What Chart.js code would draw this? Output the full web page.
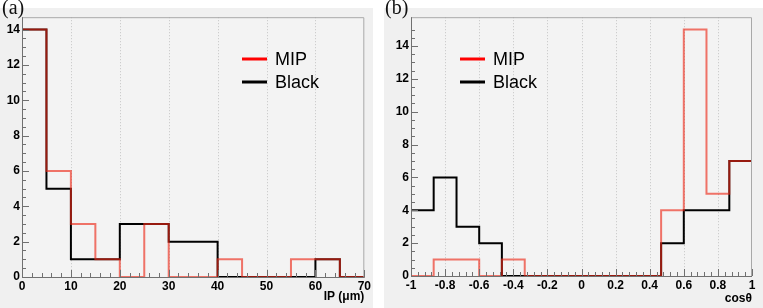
<!DOCTYPE html>
<html>
<head>
<meta charset="utf-8">
<script src="https://cdn.jsdelivr.net/npm/chart.js@4.4.0/dist/chart.umd.min.js"></script>
<style>
    body { margin: 0; width: 763px; height: 308px; background: #fff; position: relative; overflow: hidden; }
    canvas { position: absolute; top: 8px; }
    #chartA { left: 0; }
    #chartB { left: 384px; }
    .tag { position: absolute; top: -4px; font: 20px "Liberation Serif", serif; color: #111; z-index: 2; }
</style>
</head>
<body>
<canvas id="chartA" width="373" height="300"></canvas>
<canvas id="chartB" width="379" height="300"></canvas>
<div class="tag" style="left:2px">(a)</div>
<div class="tag" style="left:385px">(b)</div>
<script>
// (a) impact parameter, 5 um bins
const ipEdges = [0, 5, 10, 15, 20, 25, 30, 35, 40, 45, 50, 55, 60, 65, 70];
const ipMip = [14, 6, 3, 1, 0, 3, 0, 0, 1, 0, 0, 1, 1, 0];
const ipBlack = [14, 5, 1, 1, 3, 3, 2, 2, 0, 0, 0, 0, 1, 0];
const ipTickValues = [0, 10, 20, 30, 40, 50, 60, 70];
const ipTickLabels = ['0', '10', '20', '30', '40', '50', '60', '70'];

// (b) cos theta, 15 bins over [-1, 1]
const cosEdges = [-1, -0.867, -0.733, -0.6, -0.467, -0.333, -0.2, -0.067, 0.067, 0.2, 0.333, 0.467, 0.6, 0.733, 0.867, 1];
const cosMip = [0, 1, 1, 0, 1, 0, 0, 0, 0, 0, 0, 4, 15, 5, 7];
const cosBlack = [4, 6, 3, 2, 0, 0, 0, 0, 0, 0, 0, 2, 4, 4, 7];
const cosTickValues = [-1, -0.8, -0.6, -0.4, -0.2, 0, 0.2, 0.4, 0.6, 0.8, 1];
const cosTickLabels = ['-1', '-0.8', '-0.6', '-0.4', '-0.2', '0', '0.2', '0.4', '0.6', '0.8', '1'];

const countTickValues = [0, 2, 4, 6, 8, 10, 12, 14];
const countTickLabels = ['0', '2', '4', '6', '8', '10', '12', '14'];

const seriesNames = ['MIP', 'Black'];

const MIP_COLOR = 'rgba(236, 40, 24, 0.64)';
const BLACK_COLOR = '#000';
const TICK_FONT = { family: '"Liberation Sans", Arial, sans-serif', size: 12, weight: 'bold' };

function toSteps(edges, counts) {
    const pts = counts.map((c, i) => ({ x: edges[i], y: c }));
    pts.push({ x: edges[edges.length - 1], y: counts[counts.length - 1] });
    return pts;
}

function findIndex(list, v) {
    return list.findIndex(t => Math.abs(t - v) < 1e-6);
}

const rootStyle = {
    id: 'rootStyle',
    beforeDraw(chart, args, o) {
        const { ctx, chartArea: a } = chart;
        const x = chart.scales.x;
        ctx.save();
        ctx.fillStyle = '#f0f0f0';
        ctx.fillRect(0, 0, chart.width, chart.height);
        ctx.fillStyle = '#f3f3f3';
        ctx.fillRect(a.left, a.top, a.right - a.left, a.bottom - a.top);
        // dotted grid on major x ticks
        ctx.strokeStyle = '#c4c4c4';
        ctx.lineWidth = 1;
        ctx.setLineDash([1, 2]);
        o.xMajor.forEach(v => {
            if (v <= x.min || v >= x.max) return;
            const px = Math.round(x.getPixelForValue(v)) + 0.5;
            ctx.beginPath();
            ctx.moveTo(px, a.top);
            ctx.lineTo(px, a.bottom);
            ctx.stroke();
        });
        ctx.restore();
    },
    afterDatasetsDraw(chart, args, o) {
        const { ctx, chartArea: a } = chart;
        const x = chart.scales.x;
        const y = chart.scales.y;
        ctx.save();
        // frame
        ctx.strokeStyle = '#a8a8a8';
        ctx.lineWidth = 1;
        ctx.beginPath();
        ctx.moveTo(a.left, a.top + 0.5);
        ctx.lineTo(a.right - 0.5, a.top + 0.5);
        ctx.lineTo(a.right - 0.5, a.bottom);
        ctx.stroke();
        // axes
        ctx.strokeStyle = '#707070';
        ctx.beginPath();
        ctx.moveTo(a.left + 0.5, a.top);
        ctx.lineTo(a.left + 0.5, a.bottom + 0.5);
        ctx.lineTo(a.right, a.bottom + 0.5);
        ctx.stroke();
        // inward ticks
        ctx.beginPath();
        x.ticks.forEach(t => {
            const len = findIndex(o.xMajor, t.value) >= 0 ? 7 : 4;
            const px = Math.round(x.getPixelForValue(t.value)) + 0.5;
            ctx.moveTo(px, a.bottom);
            ctx.lineTo(px, a.bottom - len);
        });
        y.ticks.forEach(t => {
            const q = t.value / 0.5;
            if (Math.abs(q - Math.round(q)) > 1e-6) return;
            const len = findIndex(countTickValues, t.value) >= 0 ? 7 : 4;
            const py = Math.round(y.getPixelForValue(t.value)) + 0.5;
            ctx.moveTo(a.left, py);
            ctx.lineTo(a.left + len, py);
        });
        ctx.stroke();
        // legend
        const colors = ['#ff0000', '#000'];
        ctx.font = '18px "Liberation Sans", Arial, sans-serif';
        ctx.textBaseline = 'middle';
        ctx.fillStyle = '#000';
        seriesNames.forEach((name, i) => {
            const ly = o.legendY[i];
            ctx.strokeStyle = colors[i];
            ctx.lineWidth = 3;
            ctx.beginPath();
            ctx.moveTo(o.legendX, ly);
            ctx.lineTo(o.legendX + 25, ly);
            ctx.stroke();
            ctx.fillText(name, o.legendX + 33, ly + 1);
        });
        ctx.restore();
    }
};

function makePanel(id, cfg) {
    const ctx = document.getElementById(id).getContext('2d');
    return new Chart(ctx, {
        type: 'line',
        data: {
            datasets: [
                { label: seriesNames[0], data: toSteps(cfg.edges, cfg.mip), borderColor: MIP_COLOR, borderWidth: 2 },
                { label: seriesNames[1], data: toSteps(cfg.edges, cfg.black), borderColor: BLACK_COLOR, borderWidth: 2 }
            ]
        },
        options: {
            responsive: false,
            animation: false,
            events: [],
            parsing: false,
            datasets: {
                line: { stepped: true, pointRadius: 0, fill: false, clip: false, tension: 0 }
            },
            layout: { padding: cfg.padding },
            plugins: {
                legend: { display: false },
                tooltip: { enabled: false },
                rootStyle: { xMajor: cfg.tickValues, legendX: cfg.legendX, legendY: [51, 74] }
            },
            scales: {
                x: {
                    type: 'linear',
                    min: cfg.edges[0],
                    max: cfg.edges[cfg.edges.length - 1],
                    afterFit: s => { s.height = cfg.xHeight; },
                    grid: { display: false, drawTicks: false },
                    border: { display: false },
                    ticks: {
                        stepSize: cfg.minorStep,
                        autoSkip: false,
                        maxRotation: 0,
                        padding: 2,
                        color: '#000',
                        font: TICK_FONT,
                        callback: v => {
                            const i = findIndex(cfg.tickValues, v);
                            return i >= 0 ? cfg.tickLabels[i] : '';
                        }
                    },
                    title: {
                        display: true,
                        text: cfg.title,
                        align: 'end',
                        color: '#000',
                        font: TICK_FONT,
                        padding: { top: 0, bottom: cfg.titlePad }
                    }
                },
                y: {
                    min: 0,
                    max: cfg.yMax,
                    afterFit: s => { s.width = cfg.yWidth; },
                    grid: { display: false, drawTicks: false },
                    border: { display: false },
                    ticks: {
                        stepSize: 0.5,
                        autoSkip: false,
                        padding: 2,
                        color: '#000',
                        font: TICK_FONT,
                        callback: v => {
                            const i = findIndex(countTickValues, v);
                            return i >= 0 ? countTickLabels[i] : '';
                        }
                    }
                }
            }
        },
        plugins: [rootStyle]
    });
}

makePanel('chartA', {
    edges: ipEdges, mip: ipMip, black: ipBlack,
    tickValues: ipTickValues, tickLabels: ipTickLabels, minorStep: 2,
    title: 'IP (\u03bcm)', titlePad: 4,
    yMax: 14.7, yWidth: 22, xHeight: 31,
    padding: { left: 0, right: 5, top: 5, bottom: 0 },
    legendX: 242
});

makePanel('chartB', {
    edges: cosEdges, mip: cosMip, black: cosBlack,
    tickValues: cosTickValues, tickLabels: cosTickLabels, minorStep: 0.04,
    title: 'cos\u03b8', titlePad: 2,
    yMax: 15.75, yWidth: 27, xHeight: 32,
    padding: { left: 0, right: 11, top: 7, bottom: 0 },
    legendX: 76
});
</script>
</body>
</html>
